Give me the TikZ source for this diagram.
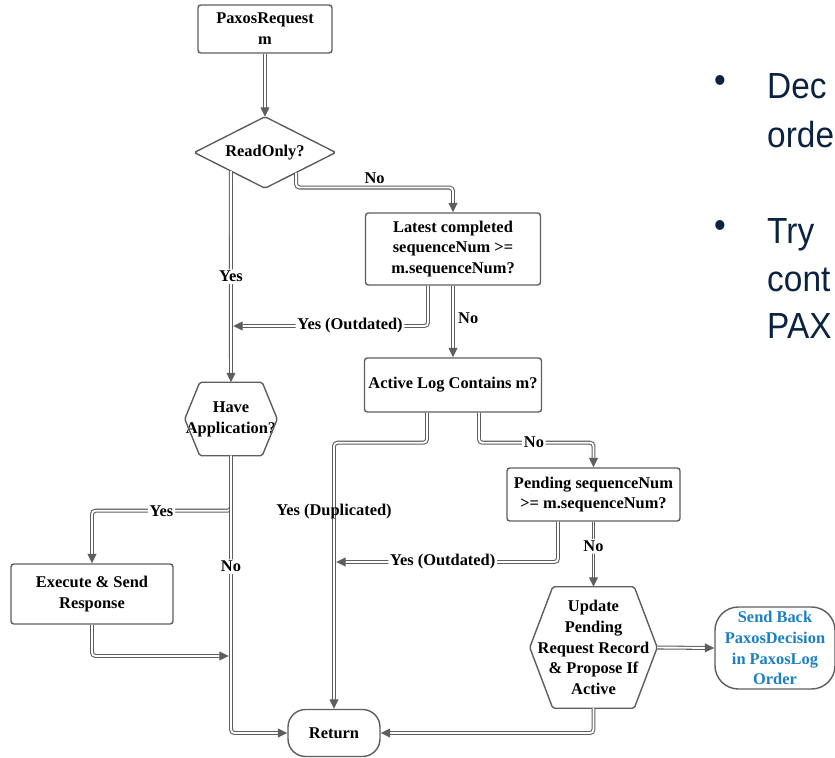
\documentclass[tikz,border=0pt]{standalone}
\usepackage{fontspec}
\setmainfont{Liberation Serif}
\newfontfamily\slidefont{Liberation Sans}
\usetikzlibrary{arrows.meta,calc}
\definecolor{linegray}{HTML}{5E5E5E}
\definecolor{decblue}{HTML}{1B7FC4}
\definecolor{slidenavy}{HTML}{0B2340}
\begin{document}
\begin{tikzpicture}[x=0.03cm,y=-0.03cm,
  every node/.style={font=\bfseries\fontsize{14}{17.8}\selectfont, align=center, inner sep=1pt},
  box/.style={draw=linegray, line width=1.2pt, rounded corners=2.5pt, fill=white},
  bare/.style={inner sep=0pt},
  outline/.style={draw=linegray, line width=1.2pt, rounded corners=1.5pt},
  conn/.style={draw=linegray, double=white, double distance=1.6pt, line width=0.9pt,
               rounded corners=3pt, -{Triangle[length=8pt,width=7.5pt]}},
  lbl/.style={fill=white, inner sep=1.5pt},
  tag/.style={inner sep=1pt}]
\useasboundingbox (0,0) rectangle (835,758);

% ---- flowchart nodes ----
\node[box, minimum width=4.02cm, minimum height=1.44cm] (req) at (265,29) {PaxosRequest\\m};
\node[bare, minimum width=4.23cm, minimum height=2.13cm] (ro) at (265,152.5) {ReadOnly?};
\draw[outline] (ro.north) -- (ro.east) -- (ro.south) -- (ro.west) -- cycle;
\node[box, minimum width=5.25cm, minimum height=2.16cm] (lat) at (453,249)
  {Latest completed\\sequenceNum >=\\m.sequenceNum?};
\node[box, minimum width=5.31cm, minimum height=1.62cm] (act) at (453,385) {Active Log Contains m?};
\node[box, minimum width=5.19cm, minimum height=1.59cm] (pen) at (593.5,494.5)
  {Pending sequenceNum\\>= m.sequenceNum?};
\node[bare, minimum width=3.81cm, minimum height=3.63cm] (upd) at (593.5,647.5)
  {Update\\Pending\\Request Record\\\& Propose If\\Active};
\draw[outline] ($(upd.north west)+(23,0)$) -- ($(upd.north east)+(-23,0)$) -- (upd.east)
  -- ($(upd.south east)+(-23,0)$) -- ($(upd.south west)+(23,0)$) -- (upd.west) -- cycle;
\node[box, text=decblue, rounded corners=20pt, minimum width=3.6cm, minimum height=2.46cm] (snd)
  at (775,648) {Send Back\\PaxosDecision\\in PaxosLog\\Order};
\node[box, rounded corners=15pt, minimum width=2.76cm, minimum height=1.41cm] (ret) at (334,733) {Return};
\node[bare, minimum width=2.76cm, minimum height=2.19cm] (hav) at (231,419) {Have\\Application?};
\draw[outline] ($(hav.north west)+(15,0)$) -- ($(hav.north east)+(-15,0)$) -- (hav.east)
  -- ($(hav.south east)+(-15,0)$) -- ($(hav.south west)+(15,0)$) -- (hav.west) -- cycle;
\node[box, minimum width=4.86cm, minimum height=1.8cm] (exe) at (92,594) {Execute \& Send\\Response};

% merge points on existing lines
\coordinate (m1) at (233.2,326);
\coordinate (m2) at (336.2,562);
\coordinate (m3) at (228.8,656);

% ---- connectors ----
\draw[conn] (req.south) -- (ro.north);
\draw[conn] ($(ro.west)!0.518!(ro.south)$) -- node[pos=0.5, lbl]{Yes} (hav.north);
\draw[conn] ($(ro.south)!0.44!(ro.east)$) -- ++(0,15) -| node[pos=0.25, above=2pt, tag]{No} (lat.north);
\draw[conn] ($(lat.south)+(-25,0)$) |- node[pos=0.7, lbl]{Yes (Outdated)} (m1);
\draw[conn] (lat.south) -- node[pos=0.45, right=3pt, tag]{No} (act.north);
\draw[conn] ($(act.south)+(-26,0)$) -- ++(0,30) -| node[pos=0.63, tag]{Yes (Duplicated)} (ret.north);
\draw[conn] ($(act.south)+(26,0)$) -- ++(0,30) -| node[pos=0.24, lbl]{No} (pen.north);
\draw[conn] ($(pen.south)+(-35.5,0)$) |- node[pos=0.76, lbl]{Yes (Outdated)} (m2);
\draw[conn] (pen.south) -- node[pos=0.38, lbl]{No} (upd.north);
\draw[conn] (upd.east) -- (snd.west);
\draw[conn] (upd.south) |- (ret.east);
\draw[conn] (hav.south) -- ++(0,55) -| node[pos=0.25, lbl]{Yes} (exe.north);
\draw[conn] (hav.south) |- node[pos=0.2, lbl]{No} (ret.west);
\draw[conn] (exe.south) |- (m3);

% ---- slide text at the right edge ----
\begin{scope}[every node/.style={font=\slidefont\fontsize{31}{37}\selectfont, text=slidenavy,
    inner sep=0pt, anchor=base west, xscale=0.92}]
  \node[anchor=center] (b1) at (720,84) {•};
  \node (t1) at (767,99) {Dec};
  \node (t2) at (767,147) {orde};
  \node[anchor=center] (b2) at (720,229) {•};
  \node (t3) at (767,243) {Try};
  \node (t4) at (767,291) {cont};
  \node (t5) at (767,338) {PAX};
\end{scope}
\end{tikzpicture}
\end{document}
